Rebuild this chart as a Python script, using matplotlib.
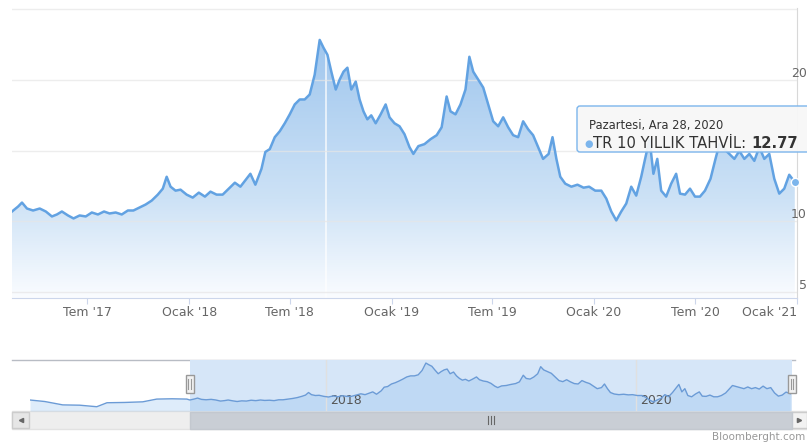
import numpy as np
import pandas as pd
import matplotlib
matplotlib.use("Agg")
import matplotlib.pyplot as plt
import matplotlib.dates as mdates
import matplotlib.transforms as mtransforms
from matplotlib.colors import LinearSegmentedColormap
from matplotlib.patches import Rectangle, FancyBboxPatch

# TR 10 yillik tahvil faizi (grafikten okunan yaklasik degerler)
dates = [
    "2017-02-15", "2017-02-26", "2017-03-05", "2017-03-14", "2017-03-25", "2017-04-06", "2017-04-17", "2017-04-28",
    "2017-05-07", "2017-05-16", "2017-05-27", "2017-06-06", "2017-06-17", "2017-06-28", "2017-07-09", "2017-07-20",
    "2017-07-31", "2017-08-10", "2017-08-21", "2017-09-01", "2017-09-12", "2017-09-22", "2017-10-03", "2017-10-14",
    "2017-10-25", "2017-11-05", "2017-11-14", "2017-11-21", "2017-11-28", "2017-12-07", "2017-12-16", "2017-12-27",
    "2018-01-07", "2018-01-18", "2018-01-29", "2018-02-08", "2018-02-19", "2018-03-02", "2018-03-13", "2018-03-24",
    "2018-04-03", "2018-04-14", "2018-04-21", "2018-04-30", "2018-05-11", "2018-05-18", "2018-05-26", "2018-06-04",
    "2018-06-13", "2018-06-22", "2018-07-01", "2018-07-10", "2018-07-19", "2018-07-28", "2018-08-06", "2018-08-15",
    "2018-08-24", "2018-08-31", "2018-09-07", "2018-09-14", "2018-09-22", "2018-09-29", "2018-10-06", "2018-10-13",
    "2018-10-20", "2018-10-28", "2018-11-04", "2018-11-11", "2018-11-18", "2018-11-25", "2018-12-03", "2018-12-12",
    "2018-12-21", "2018-12-28", "2019-01-06", "2019-01-15", "2019-01-24", "2019-02-02", "2019-02-09", "2019-02-18",
    "2019-03-01", "2019-03-12", "2019-03-23", "2019-04-01", "2019-04-10", "2019-04-17", "2019-04-26", "2019-05-05",
    "2019-05-14", "2019-05-21", "2019-05-28", "2019-06-06", "2019-06-15", "2019-06-24", "2019-07-03", "2019-07-12",
    "2019-07-21", "2019-07-30", "2019-08-08", "2019-08-17", "2019-08-26", "2019-09-04", "2019-09-13", "2019-09-22",
    "2019-10-01", "2019-10-11", "2019-10-18", "2019-10-25", "2019-11-01", "2019-11-10", "2019-11-21", "2019-12-02",
    "2019-12-13", "2019-12-23", "2020-01-03", "2020-01-14", "2020-01-23", "2020-02-01", "2020-02-10", "2020-02-19",
    "2020-02-28", "2020-03-08", "2020-03-17", "2020-03-26", "2020-04-02", "2020-04-10", "2020-04-17", "2020-04-24",
    "2020-05-01", "2020-05-10", "2020-05-19", "2020-05-28", "2020-06-04", "2020-06-13", "2020-06-22", "2020-07-01",
    "2020-07-10", "2020-07-19", "2020-07-29", "2020-08-07", "2020-08-14", "2020-08-23", "2020-09-01", "2020-09-10",
    "2020-09-19", "2020-09-28", "2020-10-07", "2020-10-16", "2020-10-25", "2020-11-03", "2020-11-12", "2020-11-21",
    "2020-11-30", "2020-12-09", "2020-12-18", "2020-12-28",
]
values = [
    10.70, 11.05, 11.33, 10.91, 10.77, 10.91, 10.70, 10.35,
    10.49, 10.70, 10.42, 10.21, 10.42, 10.35, 10.63, 10.49,
    10.70, 10.56, 10.63, 10.49, 10.77, 10.77, 10.98, 11.19,
    11.47, 11.89, 12.31, 13.15, 12.45, 12.17, 12.24, 11.89,
    11.68, 12.03, 11.75, 12.10, 11.89, 11.89, 12.31, 12.73,
    12.45, 13.01, 13.36, 12.59, 13.71, 14.90, 15.10, 15.94,
    16.36, 16.92, 17.55, 18.25, 18.60, 18.60, 18.95, 20.35,
    22.80, 22.24, 21.75, 20.56, 19.30, 20.00, 20.56, 20.84,
    19.30, 19.86, 18.60, 17.76, 17.20, 17.48, 16.92, 17.55,
    18.25, 17.34, 16.92, 16.71, 16.15, 15.24, 14.76, 15.31,
    15.45, 15.80, 16.08, 16.64, 18.81, 17.76, 17.55, 18.25,
    19.30, 21.61, 20.56, 20.00, 19.44, 18.25, 17.06, 16.71,
    17.34, 16.64, 16.08, 15.94, 17.06, 16.50, 16.08, 15.24,
    14.41, 14.76, 15.94, 14.41, 13.15, 12.66, 12.45, 12.59,
    12.38, 12.45, 12.17, 12.17, 11.61, 10.70, 10.07, 10.70,
    11.26, 12.45, 11.82, 13.15, 14.41, 15.80, 13.36, 14.41,
    12.17, 11.75, 12.66, 13.36, 11.96, 11.89, 12.31, 11.75,
    11.75, 12.17, 13.01, 14.41, 15.45, 15.10, 14.76, 14.41,
    14.97, 14.41, 14.76, 14.27, 15.24, 14.41, 14.76, 13.01,
    11.96, 12.31, 13.29, 12.77,
]

# navigator'da ana pencerenin solunda kalan donem
nav_dates_pre = ["2016-02-05", "2016-03-11", "2016-04-22", "2016-06-01", "2016-07-11", "2016-08-04",
                 "2016-09-15", "2016-10-27", "2016-11-29", "2017-01-04", "2017-02-08"]
nav_values_pre = [10.7, 10.2, 9.1, 9.0, 8.5, 9.8, 9.9, 10.1, 11.0, 11.1, 11.0]

view_start, view_end = "2017-02-15", "2021-01-01"
nav_start = "2016-02-05"
plot_line_date = "2018-09-04"

x_tick_dates = ["2017-07-01", "2018-01-01", "2018-07-01", "2019-01-01",
                "2019-07-01", "2020-01-01", "2020-07-01", "2021-01-01"]
x_tick_labels = ["Tem '17", "Ocak '18", "Tem '18", "Ocak '19",
                 "Tem '19", "Ocak '20", "Tem '20", "Ocak '21"]
y_ticks = [5, 10, 15, 20, 25]
y_tick_labels = ["5", "10", "", "20", ""]  # 15 tooltip altinda kaliyor
nav_tick_dates = ["2018-01-01", "2020-01-01"]
nav_tick_labels = ["2018", "2020"]

series_name = "TR 10 YILLIK TAHVİL"
tooltip_date = "Pazartesi, Ara 28, 2020"
credit = "Bloomberght.com"

W, H = 807, 445


def px_rect(x0, y0, x1, y1):
    """piksel kutusunu figure kesrine cevir (ust-sol orijinli)"""
    return [x0 / W, 1 - y1 / H, (x1 - x0) / W, (y1 - y0) / H]


def dnum(d):
    return mdates.date2num(pd.Timestamp(d))


fig = plt.figure(figsize=(W / 100, H / 100), dpi=100)

# arka plan katmani: navigator cercevesi ve kaydirma cubugu
bg = fig.add_axes([0, 0, 1, 1])
bg.set_xlim(0, W)
bg.set_ylim(H, 0)
bg.axis("off")
bg.add_patch(Rectangle((12, 411), 795, 18, facecolor="#eeeeee", edgecolor="#e2e2e2", lw=1))
bg.plot([12, 795], [360, 360], color="#b8bcc4", lw=1)
bg.add_patch(Rectangle((12, 412), 17, 16, facecolor="#e6e6e6", edgecolor="#cccccc", lw=1))
bg.add_patch(Rectangle((791, 412), 16, 16, facecolor="#f2f2f2", edgecolor="#cccccc", lw=1))
bg.plot([20.5], [420], marker="<", ms=3, color="#666666")
bg.plot([799], [420], marker=">", ms=3, color="#666666")

# ---- ana grafik ----
ax = fig.add_axes(px_rect(12, 8, 797, 298))
xnum = mdates.date2num(pd.to_datetime(dates))
yval = np.array(values)
x0, x1 = dnum(view_start), dnum(view_end)
ymin, ymax = 4.6, 25.05

fill_cmap = LinearSegmentedColormap.from_list(
    "fill", [(0, "#fafcff"), (0.34, "#cde2f6"), (0.9, "#9fc6ee"), (1, "#98c2ed")])
area = ax.fill_between(xnum, yval, ymin, facecolor="none", edgecolor="none")
grad = ax.imshow(np.linspace(0, 1, 256).reshape(-1, 1), cmap=fill_cmap, origin="lower",
                 aspect="auto", extent=[x0, x1, ymin, ymax], zorder=1)
grad.set_clip_path(area.get_paths()[0], transform=ax.transData)
ax.axvline(dnum(plot_line_date), color="white", lw=1.2, alpha=0.8, zorder=2)
ax.plot(xnum, yval, color="#62a2e2", lw=1.8, zorder=3, solid_joinstyle="round")
ax.plot(xnum[-1], yval[-1], "o", ms=6, mfc="#7cb5ec", mec="white", mew=1, zorder=5, clip_on=False)

ax.set_xlim(x0, x1)
ax.set_ylim(ymin, ymax)
ax.set_yticks(y_ticks)
ax.set_yticklabels(y_tick_labels)
ax.yaxis.tick_right()
ax.grid(axis="y", color="#e6e6e6", lw=1, alpha=0.7, zorder=2.5)
ax.set_axisbelow(False)
ax.tick_params(axis="y", length=0, pad=7, labelsize=9, labelcolor="#666666")
for lab in ax.get_yticklabels():
    lab.set_ha("right")
    lab.set_va("bottom")

ax.set_xticks([dnum(d) for d in x_tick_dates])
ax.set_xticklabels(x_tick_labels)
ax.tick_params(axis="x", length=4, color="#ccd6eb", pad=1.5, labelsize=9, labelcolor="#666666")
ax.get_xticklabels()[-1].set_ha("right")
for side in ["top", "left"]:
    ax.spines[side].set_visible(False)
ax.spines["bottom"].set_color("#ccd6eb")
ax.spines["right"].set_color("#d8d8d8")

# ---- navigator ----
nav = fig.add_axes(px_rect(30, 360, 792, 411))
nav.set_zorder(2)
nav.patch.set_alpha(0)
nx = np.concatenate([mdates.date2num(pd.to_datetime(nav_dates_pre)), xnum])
ny = np.concatenate([nav_values_pre, values])
n0, n1 = dnum(nav_start), x1
nymin, nymax = 7.1, 23.8
nav.axvspan(x0, x1, facecolor="#d6e6f8", edgecolor="none", zorder=0)
nav.fill_between(nx, ny, nymin, color="#7cb5ec", alpha=0.25, lw=0, zorder=1)
nav.plot(nx, ny, color="#6b9bd6", lw=1, zorder=2)
nav.set_xlim(n0, n1)
nav.set_ylim(nymin, nymax)
nav.set_yticks([])
nav.set_xticks([dnum(d) for d in nav_tick_dates])
nav.set_xticklabels(nav_tick_labels)
nav.grid(axis="x", color="#e0e0e0", lw=1)
nav.tick_params(axis="x", length=0, pad=-12, labelsize=9, labelcolor="#555555")
shift = mtransforms.ScaledTranslation(3 / 72, 0, fig.dpi_scale_trans)
for lab in nav.get_xticklabels():
    lab.set_ha("left")
    lab.set_transform(lab.get_transform() + shift)
for s in nav.spines.values():
    s.set_visible(False)

# kaydirma cubugu ve tutamaclar (secili araliga bagli)
dpp = (n1 - n0) / (792 - 30)
xt = nav.get_xaxis_transform()
nav.add_patch(Rectangle((x0, -18 / 51), x1 - x0, 17 / 51, transform=xt, clip_on=False,
                        facecolor="#c9ced5", edgecolor="#c3c8cf", lw=1))
mid = (x0 + x1) / 2
for k in (-3, 0, 3):
    nav.plot([mid + k * dpp] * 2, [-13 / 51, -5 / 51], transform=xt, clip_on=False, color="#666666", lw=0.8)
for edge in (x0, x1):
    nav.add_patch(Rectangle((edge - 4 * dpp, 18 / 51), 8 * dpp, 18 / 51, transform=xt, clip_on=False,
                            facecolor="#f2f2f2", edgecolor="#999999", lw=1, zorder=4))
    for k in (-1.5, 1.5):
        nav.plot([edge + k * dpp] * 2, [22 / 51, 32 / 51], transform=xt, clip_on=False,
                 color="#999999", lw=0.8, zorder=5)

# ---- tooltip ve credits ----
fg = fig.add_axes([0, 0, 1, 1])
fg.set_zorder(10)
fg.set_xlim(0, W)
fg.set_ylim(H, 0)
fg.axis("off")
fg.add_patch(FancyBboxPatch((577, 106), 260, 46, boxstyle="round,pad=0,rounding_size=3",
                            facecolor=(0.97, 0.97, 0.97, 0.94), edgecolor="#7cb5ec", lw=1))
fg.text(589, 126, tooltip_date, fontsize=8.3, color="#333333", va="center")
fg.text(584, 144, "●", fontsize=7, color="#7cb5ec", va="center")
t = fg.text(593, 144, series_name + ": ", fontsize=10.6, color="#333333", va="center")
fg.annotate(f"{values[-1]:.2f}", xy=(1, 0), xycoords=t, ha="left", va="bottom",
            fontsize=10.6, fontweight="bold", color="#333333")
fg.text(805, 437, credit, ha="right", va="center", fontsize=7.5, color="#999999")

fig.savefig("out.png", dpi=100)
